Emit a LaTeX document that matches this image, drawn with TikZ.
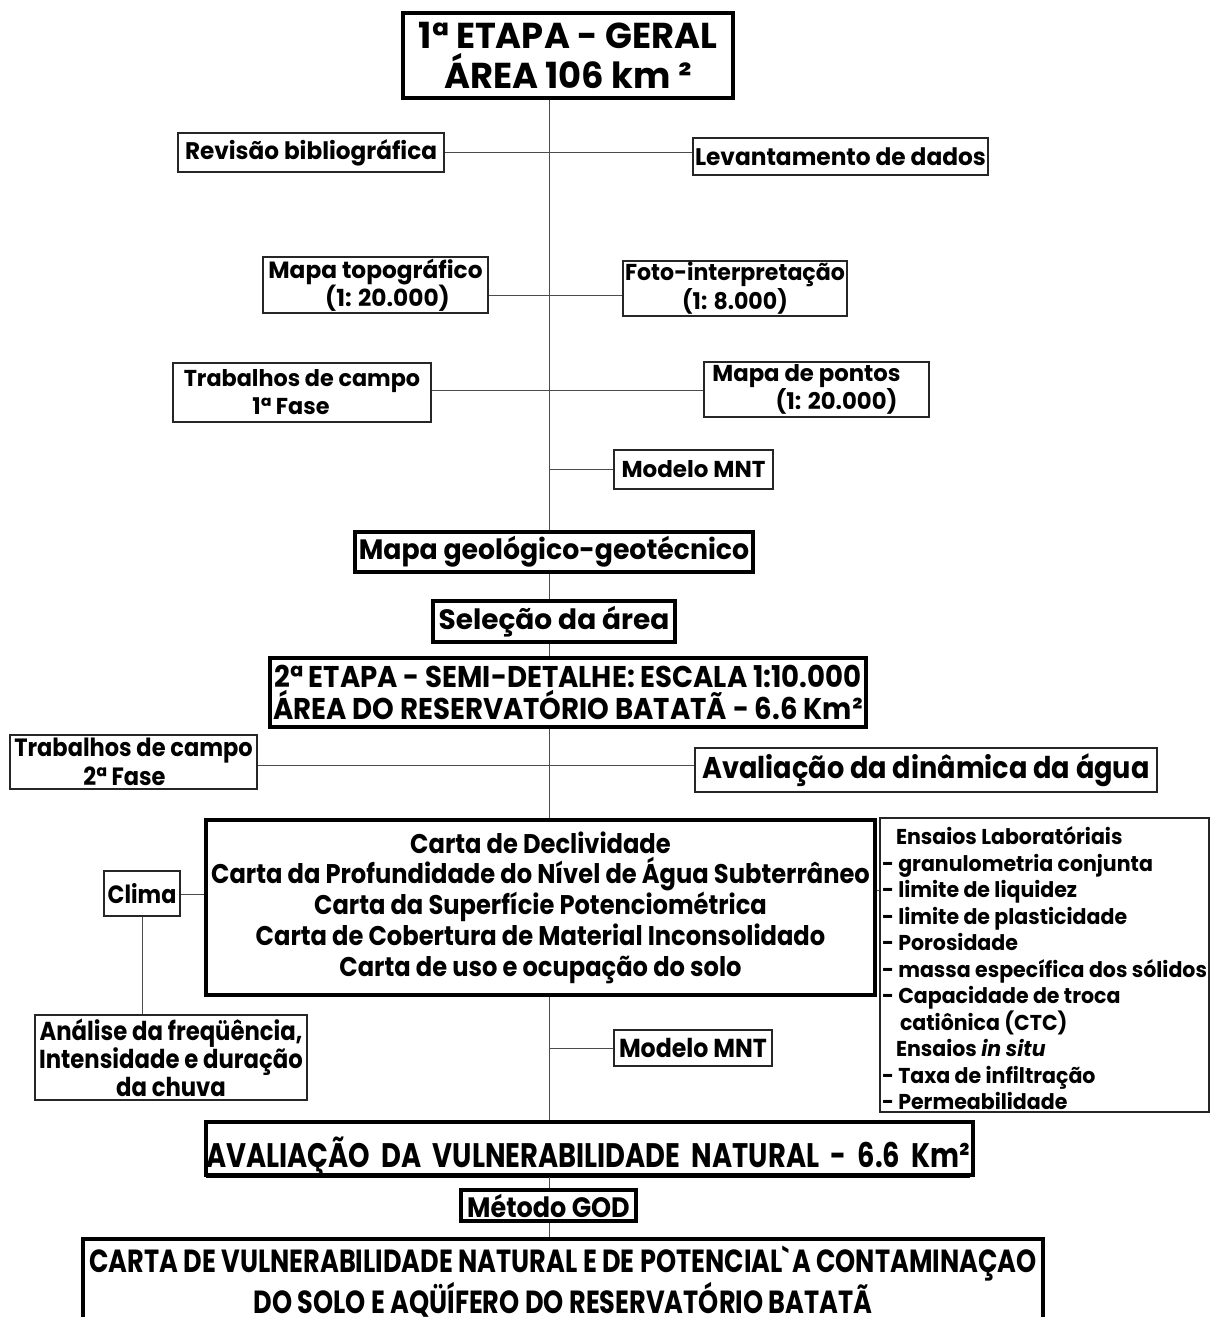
\documentclass[tikz,border=0pt]{standalone}
\usepackage{fontspec}
\setmainfont{Poppins}
\newcommand\fs[2]{\fontsize{#1}{#2}\selectfont\bfseries}
\newcommand\cnd[1]{\addfontfeatures{FakeStretch=#1}}
\begin{document}
\begin{tikzpicture}[x=1pt,y=-1pt,
  box/.style={draw=black!85, line width=1.4pt, inner sep=0pt, align=center},
  tbox/.style={draw=black, line width=3.4pt, inner sep=0pt, align=center},
  link/.style={draw=black!70, line width=1pt}]
\useasboundingbox (0,0) rectangle (1210,1317);
\coordinate (L) at (549,0);

\node[tbox, minimum width=330pt, minimum height=85pt, font={\fs{36}{40}\cnd{0.98}}] (t1) at (568,55.5)
  {1ª ETAPA - GERAL\\ÁREA 106 km ²};
\node[box, minimum width=266pt, minimum height=39pt, font={\fs{24}{28}\cnd{0.965}}] (rev) at (311,152.5)
  {Revisão bibliográfica};
\node[box, minimum width=295pt, minimum height=37pt, font={\fs{24}{28}\cnd{0.97}}] (lev) at (840.5,156.5)
  {Levantamento de dados};
\node[box, minimum width=225pt, minimum height=56pt, font={\fs{23.5}{28}\cnd{0.99}}] (topo) at (375.5,285)
  {Mapa topográfico\\\hspace*{24pt}(1: 20.000)};
\node[box, minimum width=224pt, minimum height=55pt, font={\fs{23}{29}\cnd{0.96}}] (foto) at (735,288.5)
  {Foto-interpretação\\(1: 8.000)};
\node[box, minimum width=258pt, minimum height=59pt, font={\fs{23}{28}\cnd{0.97}}] (tc1) at (302,392.5)
  {Trabalhos de campo\\1ª Fase\hspace*{22pt}};
\node[box, minimum width=225pt, minimum height=55pt, font={\fs{23}{28}\cnd{0.99}}] (pontos) at (816.5,389.5)
  {Mapa de pontos\hspace*{20pt}\\\hspace*{40pt}(1: 20.000)};
\node[box, minimum width=159pt, minimum height=39pt, font={\fs{23}{28}\cnd{1.0}}] (mnt1) at (693.5,469.5)
  {Modelo MNT};
\node[tbox, minimum width=398pt, minimum height=40pt, font={\fs{28}{32}\cnd{0.955}}] (geo) at (554,552)
  {Mapa geológico-geotécnico};
\node[tbox, minimum width=242pt, minimum height=41pt, font={\fs{28}{32}\cnd{1.0}}] (sel) at (554,621.5)
  {Seleção da área};
\node[tbox, minimum width=596pt, minimum height=69pt, font={\fs{30}{32}\cnd{0.92}}] (e2) at (568,692.5)
  {2ª ETAPA - SEMI-DETALHE: ESCALA 1:10.000\\ÁREA DO RESERVATÓRIO BATATÃ - 6.6 Km²};
\node[box, minimum width=247pt, minimum height=54pt, font={\fs{25}{29}\cnd{0.9}}] (tc2) at (133.5,762)
  {Trabalhos de campo\\2ª Fase\hspace*{18pt}};
\node[box, minimum width=462pt, minimum height=44pt, font={\fs{30}{34}\cnd{0.905}}] (din) at (926,770)
  {Avaliação da dinâmica da água};
\node[tbox, minimum width=669pt, minimum height=175pt, font={\fs{27}{30.8}\cnd{0.895}}] (big) at (540.5,907.5)
  {Carta de Declividade\\Carta da Profundidade do Nível de Água Subterrâneo\\Carta da Superfície Potenciométrica\\Carta de Cobertura de Material Inconsolidado\\Carta de uso e ocupação do solo};
\node[box, minimum width=76pt, minimum height=45pt, font={\fs{25}{28}\cnd{0.89}}] (clima) at (142,893.5)
  {Clima};
\node[box, minimum width=272pt, minimum height=85pt, font={\fs{26}{27.5}\cnd{0.875}}] (anal) at (171,1057.5)
  {Análise da freqüência,\\Intensidade e duração\\da chuva};
\node[box, minimum width=329pt, minimum height=294pt, inner xsep=2pt, align=left, font={\fs{21.5}{26.5}\cnd{0.955}}] (ens) at (1044.5,965)
  {\rule{0pt}{25pt}\hspace*{14pt}Ensaios Laboratóriais\\
   - granulometria conjunta\\
   - limite de liquidez\\
   - limite de plasticidade\\
   - Porosidade\\
   - massa específica dos sólidos\\
   - Capacidade de troca\\
   \hspace*{18pt}catiônica (CTC)\\
   \hspace*{14pt}Ensaios \textit{in situ}\\
   - Taxa de infiltração\\
   - Permeabilidade};
\node[box, minimum width=158pt, minimum height=36pt, font={\fs{26}{28}\cnd{0.91}}] (mnt2) at (693,1048)
  {Modelo MNT};
\node[tbox, text width=767pt, text height=45pt, text depth=8pt, align=left, font={\fs{34}{36}\cnd{0.805}}] (aval) at (589.5,1148.5)
  {\underline{AVALIAÇÃO DA VULNERABILIDADE NATURAL - 6.6 Km²}};
\node[tbox, minimum width=175pt, minimum height=31pt, font={\fs{28}{30}\cnd{0.91}}] (god) at (548.5,1205.5)
  {Método GOD};
\node[tbox, minimum width=960pt, minimum height=84pt, font={\fs{32}{36}\cnd{0.80}}] (final) at (563,1281)
  {CARTA DE VULNERABILIDADE NATURAL E DE POTENCIAL\textasciigrave A CONTAMINAÇAO\\DO SOLO E AQÜÍFERO DO RESERVATÓRIO BATATÃ\\[-34pt]\mbox{}};

% spine
\draw[link] (L |- t1.south) -- (L |- geo.north);
\draw[link] (L |- geo.south) -- (L |- sel.north);
\draw[link] (L |- sel.south) -- (L |- e2.north);
\draw[link] (L |- e2.south) -- (L |- big.north);
\draw[link] (L |- big.south) -- (L |- aval.north);
\draw[link] (L |- aval.south) -- (L |- god.north);
\draw[link] (L |- god.south) -- (L |- final.north);
% branches
\draw[link] (rev.east) -- (rev.east -| lev.west);
\draw[link] (topo.east) ++(0,10) coordinate (a1) -- (a1 -| foto.west);
\draw[link] (tc1.east) ++(0,-2) coordinate (a5) -- (a5 -| pontos.west);
\draw[link] (L |- mnt1.west) -- (mnt1.west);
\draw[link] (tc2.east) ++(0,3) coordinate (a2) -- (a2 -| din.west);
\draw[link] (clima.east) ++(0,1) coordinate (a3) -- (a3 -| big.west);
\draw[link] (clima.south) -- (clima.south |- anal.north);
\coordinate (a4) at (0,890);
\draw[link] (a4 -| big.east) -- (a4 -| ens.west);
\draw[link] (L |- mnt2.west) -- (mnt2.west);
\end{tikzpicture}
\end{document}
